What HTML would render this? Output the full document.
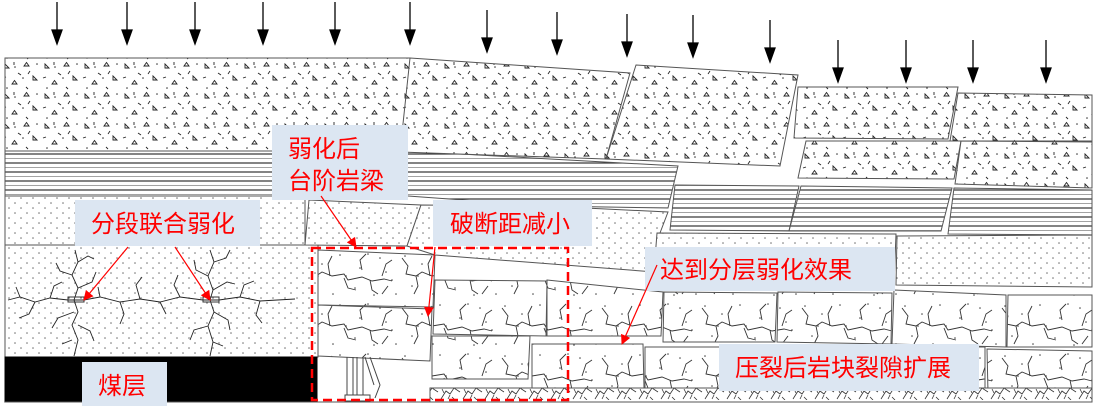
<!DOCTYPE html>
<html><head><meta charset="utf-8"><style>
html,body{margin:0;padding:0;background:#fff}
svg{display:block}
.lbl{font-family:"Liberation Sans","Noto Sans CJK SC",sans-serif;font-size:24px;fill:#ff0000}
</style></head><body>
<svg width="1095" height="412" viewBox="0 0 1095 412" xmlns="http://www.w3.org/2000/svg">
<defs>
<pattern id="tri" width="40" height="30" patternUnits="userSpaceOnUse">
<rect width="40" height="30" fill="#fff"/>
<g stroke="#222" stroke-width="0.9" fill="none">
<path d="M5 8 l4 0 l-4 -4 z"/><path d="M24 6 l5 0 l-2.5 -3.5 z"/><path d="M33 20 l4 0 l-4 -4z"/>
<path d="M12 24 l5 0 l-2.5 -3.5z"/><path d="M18 13 l3 2"/><path d="M30 11 l-2 3"/><path d="M3 18 l3 -1"/><path d="M26 27 l2 2"/><path d="M14 2 l0 3"/>
</g>
<g fill="#333"><circle cx="15" cy="7" r="0.8"/><circle cx="37" cy="4" r="0.8"/><circle cx="7" cy="28" r="0.8"/><circle cx="23" cy="18" r="0.8"/></g>
</pattern>
<pattern id="dot" width="12" height="10" patternUnits="userSpaceOnUse">
<rect width="12" height="10" fill="#fff"/>
<g fill="#666"><circle cx="3" cy="3" r="0.75"/><circle cx="9" cy="8" r="0.75"/></g>
</pattern>
<pattern id="str" width="10" height="9" patternUnits="userSpaceOnUse">
<rect width="10" height="9" fill="#fff"/>
<line x1="0" y1="1" x2="10" y2="1" stroke="#333" stroke-width="1.2"/>
<line x1="0" y1="5.5" x2="10" y2="5.5" stroke="#999" stroke-width="0.9"/>
</pattern>
<pattern id="frac" width="100" height="50" patternUnits="userSpaceOnUse">
<rect width="100" height="50" fill="#fff"/>
<g fill="#444"><circle cx="5" cy="6" r="0.8"/><circle cx="22" cy="14" r="0.8"/><circle cx="40" cy="5" r="0.8"/><circle cx="60" cy="18" r="0.8"/><circle cx="80" cy="8" r="0.8"/><circle cx="92" cy="30" r="0.8"/><circle cx="12" cy="36" r="0.8"/><circle cx="33" cy="44" r="0.8"/><circle cx="55" cy="38" r="0.8"/><circle cx="74" cy="45" r="0.8"/><circle cx="46" cy="26" r="0.8"/><circle cx="86" cy="22" r="0.8"/><circle cx="18" cy="26" r="0.8"/><circle cx="68" cy="4" r="0.8"/><circle cx="96" cy="44" r="0.8"/></g>
<g stroke="#333" stroke-width="0.9" fill="none">
<path d="M2 8 l6 8 l-2 8 l10 2 l6 -4 l10 4 l12 -2 l4 6 l14 -3 l10 4 l12 -2 l8 2"/>
<path d="M16 26 l2 10 l-4 8"/><path d="M44 28 l4 10 l8 2"/><path d="M62 20 l-2 -10 l6 -6"/><path d="M82 26 l4 -12 l6 -4"/><path d="M30 26 l-2 -12 l4 -8"/><path d="M70 30 l2 10 l6 4"/><path d="M88 36 l-6 8"/>
</g>
</pattern>
<pattern id="rub" width="22" height="16" patternUnits="userSpaceOnUse">
<rect width="22" height="16" fill="#fff"/>
<g stroke="#333" stroke-width="0.8" fill="none"><path d="M1 15 l5 -8 l4 3 l4 -6 l6 4"/><path d="M4 9 l-2 -4"/><path d="M12 13 l3 3"/><path d="M8 15 l2 -4"/></g>
</pattern>
<marker id="ah" markerWidth="10" markerHeight="10" refX="9" refY="5" orient="auto" markerUnits="userSpaceOnUse"><path d="M0 0 L10 5 L0 10 z" fill="#f00"/></marker>
</defs>
<rect width="1095" height="412" fill="#fff"/>
<g stroke="#555" stroke-width="1">
<rect x="5" y="58" width="405" height="93" fill="url(#tri)"/>
<polygon points="5,151 408,151 550,159 678,166 668,208 545,206 408,196 5,196" fill="url(#str)"/>
<rect x="5" y="196" width="300" height="49" fill="url(#dot)"/>
<rect x="5" y="245" width="313" height="112" fill="url(#dot)"/>
<rect x="5" y="357" width="312" height="45" fill="#000" stroke="#000"/>
<polygon points="410,58 630,73 606,159 400,152" fill="url(#tri)"/>
<polygon points="636,65 798,75 780,166 606,159" fill="url(#tri)"/>
<polygon points="798,87 958,87 948,139 794,138" fill="url(#tri)"/>
<polygon points="958,93 1092,95 1092,141 950,141" fill="url(#tri)"/>
<polygon points="806,141 961,141 954,179 798,178" fill="url(#tri)"/>
<polygon points="961,141 1092,142 1092,188 955,184" fill="url(#tri)"/>
<polygon points="675,185 799,186 789,231 670,230" fill="url(#str)"/>
<polygon points="801,186 952,188 941,231 789,231" fill="url(#str)"/>
<polygon points="954,188 1092,190 1092,235 948,234" fill="url(#str)"/>
<polygon points="309,200 421,205 407,246 305,245" fill="url(#dot)"/>
<polygon points="421,205 545,206 668,212 660,233 655,272 435,255 407,246" fill="url(#dot)"/>
<polygon points="657,233 896,234 894,285 654,272" fill="url(#dot)"/>
<polygon points="897,236 1092,235 1092,287 896,285" fill="url(#dot)"/>
<g fill="none" stroke="#222" stroke-width="0.9">
<path d="M8 300 L20 297 L35 302 L50 298 L68 300 L84 300 L100 297 L120 302 L140 299 L160 302 L180 297 L203 300 L219 300 L240 297 L260 301 L295 299"/>
<path d="M75 250 L78 262 L72 275 L78 288 L74 300 L78 312 L72 325 L78 340 L74 356"/>
<path d="M210 250 L214 262 L208 276 L213 290 L210 300 L214 312 L208 326 L213 342 L210 356"/>
<path d="M78 262 l10 -6 l6 3 M72 275 l-12 -4 l-4 -8 M78 288 l14 -6 l4 -10 M74 312 l-16 6 l-6 10 M78 325 l12 6 l4 10 M72 340 l-10 4"/>
<path d="M214 262 l12 -4 l4 -8 M208 276 l-12 -6 l-2 -10 M213 290 l14 -8 l8 2 M214 312 l14 8 l2 10 M208 326 l-14 4 l-4 10 M213 342 l10 4"/>
<path d="M35 302 l-6 12 l-10 4 M50 298 l4 -12 l8 -4 M120 302 l4 12 l-4 10 M140 299 l-4 -14 l6 -8 M160 302 l6 12 M180 297 l-6 -12 l4 -10 M240 297 l4 -12 l10 -4 M260 301 l-4 14 l6 8 M100 297 l-2 -10 M20 297 l-4 -10"/>
</g>
<rect x="68" y="297" width="16" height="5" fill="none" stroke="#333"/>
<rect x="203" y="297" width="16" height="5" fill="none" stroke="#333"/>
<polygon points="318,250 435,255 433,307 318,305" fill="url(#frac)"/>
<polygon points="318,305 432,309 430,361 318,356" fill="url(#frac)"/>
<polygon points="435,280 547,281 546,336 433,334" fill="url(#frac)"/>
<polygon points="547,280 663,292 661,336 547,336" fill="url(#frac)"/>
<polygon points="664,292 777,293 775,342 663,342" fill="url(#frac)"/>
<polygon points="778,292 892,293 891,344 777,342" fill="url(#frac)"/>
<polygon points="894,290 1006,295 1006,347 892,344" fill="url(#frac)"/>
<polygon points="1008,295 1092,295 1092,347 1007,347" fill="url(#frac)"/>
<polygon points="432,336 530,336 528,379 432,379" fill="url(#frac)"/>
<polygon points="532,344 643,344 644,388 532,388" fill="url(#frac)"/>
<polygon points="645,347 985,347 985,390 645,390" fill="url(#frac)"/>
<polygon points="987,349 1092,351 1092,393 988,393" fill="url(#frac)"/>
<rect x="430" y="388" width="662" height="14" fill="url(#rub)"/>
<g fill="none" stroke="#444"><path d="M347 357 V395 M353 357 V395 M357 357 V395 M363 357 V395 M370 357 L380 385 L375 398 M365 357 L374 385"/><rect x="345" y="395" width="25" height="6"/></g>
<line x1="5" y1="402" x2="1092" y2="402" stroke="#555"/>
</g>
<g stroke="#000" stroke-width="1.3" fill="#000">
<line x1="57" y1="2" x2="57" y2="32"/><path d="M52 30 L62 30 L57 44z"/>
<line x1="127" y1="2" x2="127" y2="32"/><path d="M122 30 L132 30 L127 44z"/>
<line x1="195" y1="2" x2="195" y2="32"/><path d="M190 30 L200 30 L195 44z"/>
<line x1="263" y1="2" x2="263" y2="32"/><path d="M258 30 L268 30 L263 44z"/>
<line x1="335" y1="2" x2="335" y2="32"/><path d="M330 30 L340 30 L335 44z"/>
<line x1="410" y1="2" x2="410" y2="32"/><path d="M405 30 L415 30 L410 44z"/>
<line x1="487" y1="10" x2="487" y2="40"/><path d="M482 38 L492 38 L487 52z"/>
<line x1="557" y1="12" x2="557" y2="42"/><path d="M552 40 L562 40 L557 54z"/>
<line x1="627" y1="14" x2="627" y2="44"/><path d="M622 42 L632 42 L627 56z"/>
<line x1="693" y1="15" x2="693" y2="45"/><path d="M688 43 L698 43 L693 57z"/>
<line x1="770" y1="20" x2="770" y2="50"/><path d="M765 48 L775 48 L770 62z"/>
<line x1="838" y1="40" x2="838" y2="70"/><path d="M833 68 L843 68 L838 82z"/>
<line x1="906" y1="40" x2="906" y2="70"/><path d="M901 68 L911 68 L906 82z"/>
<line x1="973" y1="40" x2="973" y2="70"/><path d="M968 68 L978 68 L973 82z"/>
<line x1="1046" y1="40" x2="1046" y2="70"/><path d="M1041 68 L1051 68 L1046 82z"/>
</g>
<g fill="#dce6f2">
<rect x="272" y="125" width="136" height="75"/>
<rect x="75" y="200" width="185" height="46"/>
<rect x="433" y="200" width="159" height="46"/>
<rect x="645" y="247" width="250" height="44"/>
<rect x="719" y="344" width="260" height="47"/>
<rect x="82" y="362" width="85" height="44"/>
</g>
<text class="lbl" x="288" y="157">弱化后</text>
<text class="lbl" x="288" y="189">台阶岩梁</text>
<text class="lbl" x="91" y="232">分段联合弱化</text>
<text class="lbl" x="450" y="232">破断距减小</text>
<text class="lbl" x="660" y="278">达到分层弱化效果</text>
<text class="lbl" x="735" y="376">压裂后岩块裂隙扩展</text>
<text class="lbl" x="98" y="394">煤层</text>
<rect x="312" y="248" width="256" height="152" fill="none" stroke="#f00" stroke-width="2.5" stroke-dasharray="9,5"/>
<g stroke="#f00" stroke-width="1.2" marker-end="url(#ah)">
<line x1="128" y1="247" x2="84" y2="300"/>
<line x1="175" y1="247" x2="210" y2="300"/>
<line x1="321" y1="196" x2="356" y2="247"/>
<line x1="435" y1="247" x2="428" y2="316"/>
<line x1="657" y1="265" x2="622" y2="344"/>
</g>
</svg>
</body></html>
